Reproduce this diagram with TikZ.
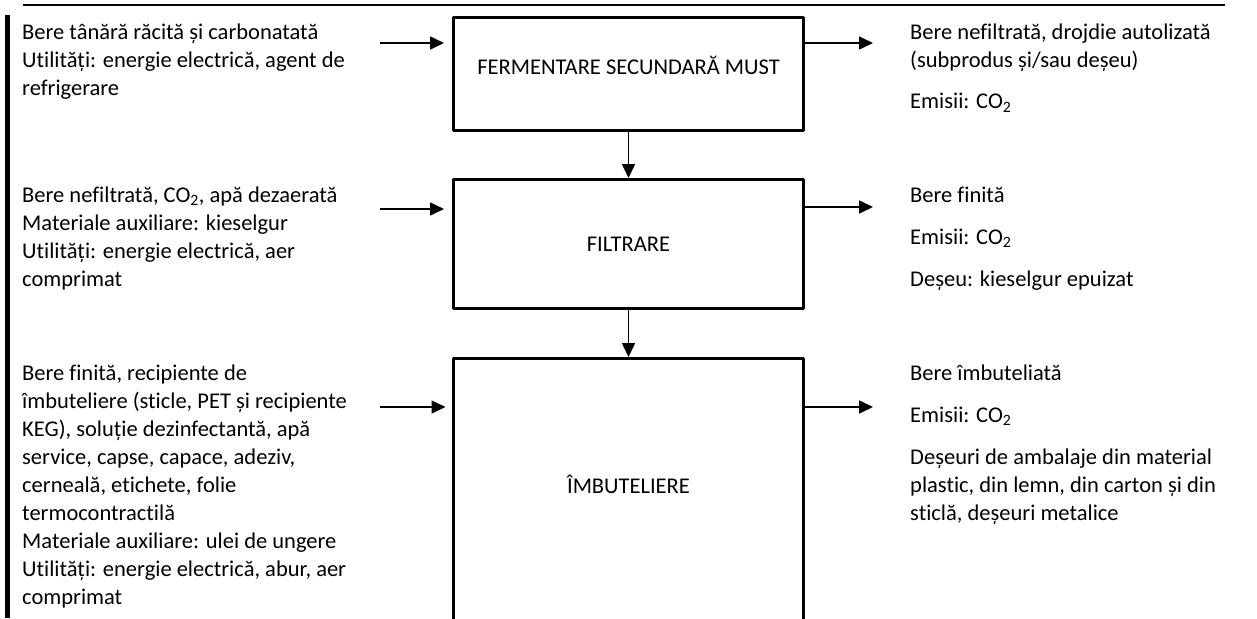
\documentclass[tikz,border=0pt]{standalone}
\usepackage{fontspec}
\setmainfont{Carlito}[Ligatures=NoCommon]
\usetikzlibrary{arrows.meta}

\newcommand{\lines}[1]{\begin{tabular}[t]{@{}l@{}}#1\end{tabular}}

\begin{document}
\begin{tikzpicture}[
        x = 1pt, y = -1pt,
        line join=round,
        procbox/.style = {draw, line width=3pt, minimum width=350pt, inner sep=0pt, font=\fontsize{22.5}{28}\selectfont},
        flow/.style = {line width=1.6pt, -{Triangle[length=14pt, width=13pt]}},
        txt/.style = {anchor=base west, inner sep=0pt, font=\fontsize{22.5}{28}\selectfont}
    ]
    \useasboundingbox (0,0) rectangle (1257,618);
    \clip (0,0) rectangle (1257,618);

    \draw[line width=1.5pt] (23,5) -- (1225,5);
    \draw[line width=5pt] (7.5,15) -- (7.5,618);

    % process steps
    \node[procbox, minimum height=113pt, text depth=17pt] (ferment) at (628.5,74) {FERMENTARE SECUNDARĂ MUST};
    \node[procbox, minimum height=129pt] (filtr) at (628.5,244) {FILTRARE};
    \node[minimum width=350pt, minimum height=252pt, inner sep=0pt, outer sep=0pt,
          font=\fontsize{22.5}{28}\selectfont] (bottle) at (628.5,484.5) {ÎMBUTELIERE};
    \draw[line width=3pt] ([yshift=-30pt]bottle.south west) -- (bottle.north west)
        -- (bottle.north east) -- ([yshift=-30pt]bottle.south east);

    \draw[flow] (ferment) -- (filtr);
    \draw[flow] (filtr) -- ([yshift=1.5pt]bottle.north);

    % inputs
    \node[txt] (inFerment) at (22,40) {\lines{Bere tânără răcită și carbonatată\\
        Utilități: energie electrică, agent de\\ refrigerare}};
    \node[txt] (inFiltr) at (22,202) {\lines{Bere nefiltrată, CO\textsubscript{2}, apă dezaerată\\
        Materiale auxiliare: kieselgur\\ Utilități: energie electrică, aer\\ comprimat}};
    \node[txt] (inBottle) at (22,380) {\lines{Bere finită, recipiente de\\
        îmbuteliere (sticle, PET și recipiente\\ KEG), soluție dezinfectantă, apă\\
        service, capse, capace, adeziv,\\ cerneală, etichete, folie\\ termocontractilă\\
        Materiale auxiliare: ulei de ungere\\ Utilități: energie electrică, abur, aer\\ comprimat}};

    % outputs
    \node[txt] (outFerment) at (910,40) {\lines{Bere nefiltrată, drojdie autolizată\\
        (subprodus și/sau deșeu)\\[13pt] Emisii: CO\textsubscript{2}}};
    \node[txt] (outFiltr) at (910,202) {\lines{Bere finită\\[14pt] Emisii: CO\textsubscript{2}\\[14pt]
        Deșeu: kieselgur epuizat}};
    \node[txt] (outBottle) at (910,380) {\lines{Bere îmbuteliată\\[14pt] Emisii: CO\textsubscript{2}\\[14pt]
        Deșeuri de ambalaje din material\\ plastic, din lemn, din carton și din\\ sticlă, deșeuri metalice}};

    \coordinate (a1) at (380,43);
    \coordinate (a2) at (380,209);
    \coordinate (a3) at (380,407);
    \coordinate (b1) at (873,43);
    \coordinate (b2) at (873,207);
    \coordinate (b3) at (873,407);

    \draw[flow, shorten >=8pt] (a1) -- (a1 -| ferment.west);
    \draw[flow, shorten >=8pt] (a2) -- (a2 -| filtr.west);
    \draw[flow, shorten >=8pt] (a3) -- (a3 -| bottle.west);
    \draw[flow] (b1 -| ferment.east) -- (b1);
    \draw[flow] (b2 -| filtr.east) -- (b2);
    \draw[flow] (b3 -| bottle.east) -- (b3);
\end{tikzpicture}
\end{document}
